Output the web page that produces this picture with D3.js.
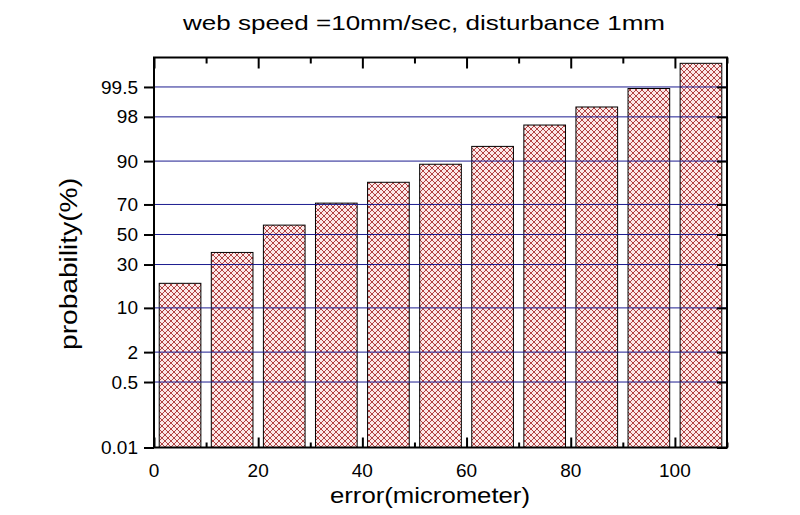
<!DOCTYPE html>
<html>
<head>
<meta charset="utf-8">
<script src="https://cdn.jsdelivr.net/npm/d3@7"></script>
<style>
  html, body { margin: 0; padding: 0; background: #ffffff; }
  svg { display: block; }
  text { font-family: "Liberation Sans", Arial, sans-serif; fill: #000; }
</style>
</head>
<body>
<div id="chart"></div>
<script>
// ---- data ----
const errorCenters = [5, 15, 25, 35, 45, 55, 65, 75, 85, 95, 105];
const probabilities = [19.7, 37.7, 56.5, 70.8, 81.9, 89.0, 93.8, 97.2, 98.7, 99.46, 99.86];
const yTickValues = [0.01, 0.5, 2, 10, 30, 50, 70, 90, 98, 99.5];
const yTickLabels = ["0.01", "0.5", "2", "10", "30", "50", "70", "90", "98", "99.5"];
const xMajorTicks = [0, 20, 40, 60, 80, 100];
const xMinorTicks = [10, 30, 50, 70, 90, 110];
const barWidthUnits = 8;
const titleText = "web speed =10mm/sec, disturbance 1mm";
const xLabelText = "error(micrometer)";
const yLabelText = "probability(%)";

// inverse normal CDF (Acklam)
function probit(p) {
  const a = [-3.969683028665376e+01, 2.209460984245205e+02, -2.759285104469687e+02, 1.383577518672690e+02, -3.066479806614716e+01, 2.506628277459239e+00];
  const b = [-5.447609879822406e+01, 1.615858368580409e+02, -1.556989798598866e+02, 6.680131188771972e+01, -1.328068155288572e+01];
  const c = [-7.784894002430293e-03, -3.223964580411365e-01, -2.400758277161838e+00, -2.549732539343734e+00, 4.374664141464968e+00, 2.938163982698783e+00];
  const d = [7.784695709041462e-03, 3.224671290700398e-01, 2.445134137142996e+00, 3.754408661907416e+00];
  const pl = 0.02425, ph = 1 - pl;
  let q, r;
  if (p < pl) {
    q = Math.sqrt(-2 * Math.log(p));
    return (((((c[0]*q+c[1])*q+c[2])*q+c[3])*q+c[4])*q+c[5]) / ((((d[0]*q+d[1])*q+d[2])*q+d[3])*q+1);
  } else if (p <= ph) {
    q = p - 0.5; r = q * q;
    return (((((a[0]*r+a[1])*r+a[2])*r+a[3])*r+a[4])*r+a[5])*q / (((((b[0]*r+b[1])*r+b[2])*r+b[3])*r+b[4])*r+1);
  } else {
    q = Math.sqrt(-2 * Math.log(1 - p));
    return -(((((c[0]*q+c[1])*q+c[2])*q+c[3])*q+c[4])*q+c[5]) / ((((d[0]*q+d[1])*q+d[2])*q+d[3])*q+1);
  }
}

(function () {
const W = 800, H = 515;
const pL = 154, pR = 727, pT = 57.5, pB = 447.5;

const svg = d3.select("#chart").append("svg").attr("width", W).attr("height", H);

const x = d3.scaleLinear().domain([0, 110]).range([pL, pR]);
const yz = d3.scaleLinear().domain([probit(0.0001), probit(0.999)]).range([pB, pT]);
const y = p => yz(probit(p / 100));

// pattern
const defs = svg.append("defs");
const pat = defs.append("pattern").attr("id", "hatch").attr("patternUnits", "userSpaceOnUse")
  .attr("width", 6).attr("height", 6);
pat.append("rect").attr("width", 6).attr("height", 6).attr("fill", "#fce8e8");
pat.append("path").attr("d", "M-1,-1L7,7M7,-1L-1,7").attr("stroke", "#a83030").attr("stroke-width", 0.9).attr("fill", "none");

// bars
svg.append("g").selectAll("rect").data(errorCenters).join("rect")
  .attr("x", d => x(d - barWidthUnits / 2))
  .attr("width", d => x(d + barWidthUnits / 2) - x(d - barWidthUnits / 2))
  .attr("y", (d, i) => y(probabilities[i]))
  .attr("height", (d, i) => pB - y(probabilities[i]))
  .attr("fill", "url(#hatch)")
  .attr("stroke", "#000").attr("stroke-width", 1);

// gridlines
svg.append("g").selectAll("line").data(yTickValues.slice(1)).join("line")
  .attr("x1", pL).attr("x2", pR)
  .attr("y1", d => y(d)).attr("y2", d => y(d))
  .attr("stroke", "#1c1c90").attr("stroke-width", 1);

// left axis (outward ticks with labels)
const leftAxis = d3.axisLeft(yz)
  .tickValues(yTickValues.map(p => probit(p / 100)))
  .tickFormat((d, i) => yTickLabels[i])
  .tickSize(10).tickPadding(6);
const gL = svg.append("g").attr("transform", `translate(${pL},0)`).call(leftAxis);
gL.select(".domain").remove();
gL.selectAll("line").attr("stroke-width", 2);
gL.selectAll("text").attr("font-size", 19).attr("font-family", "Liberation Sans, Arial, sans-serif");

// right axis (inward ticks, no labels)
const rightAxis = d3.axisLeft(yz)
  .tickValues(yTickValues.map(p => probit(p / 100)))
  .tickFormat("").tickSize(10);
const gR = svg.append("g").attr("transform", `translate(${pR},0)`).call(rightAxis);
gR.select(".domain").remove();
gR.selectAll("line").attr("stroke-width", 2);

// bottom axis (inward ticks)
const bottomAxis = d3.axisTop(x).tickValues(xMajorTicks).tickFormat("").tickSize(10);
const gB = svg.append("g").attr("transform", `translate(0,${pB})`).call(bottomAxis);
gB.select(".domain").remove();
gB.selectAll("line").attr("stroke-width", 2);
const bottomMinor = d3.axisTop(x).tickValues(xMinorTicks).tickFormat("").tickSize(5);
const gBm = svg.append("g").attr("transform", `translate(0,${pB})`).call(bottomMinor);
gBm.select(".domain").remove();
gBm.selectAll("line").attr("stroke-width", 2);
// bottom labels
svg.append("g").selectAll("text").data(xMajorTicks).join("text")
  .attr("x", d => x(d)).attr("y", 477)
  .attr("text-anchor", "middle").attr("font-size", 19)
  .text(d => d);

// top axis (inward ticks)
const topAxis = d3.axisBottom(x).tickValues(xMajorTicks).tickFormat("").tickSize(11);
const gT = svg.append("g").attr("transform", `translate(0,${pT})`).call(topAxis);
gT.select(".domain").remove();
gT.selectAll("line").attr("stroke-width", 2);
const topMinor = d3.axisBottom(x).tickValues(xMinorTicks).tickFormat("").tickSize(6);
const gTm = svg.append("g").attr("transform", `translate(0,${pT})`).call(topMinor);
gTm.select(".domain").remove();
gTm.selectAll("line").attr("stroke-width", 2);

// frame
svg.append("rect").attr("x", pL).attr("y", pT)
  .attr("width", pR - pL).attr("height", pB - pT)
  .attr("fill", "none").attr("stroke", "#000").attr("stroke-width", 2);

// title and labels
svg.append("text").attr("x", 424).attr("y", 30).attr("text-anchor", "middle")
  .attr("font-size", 21).attr("textLength", 482).attr("lengthAdjust", "spacingAndGlyphs")
  .text(titleText);
svg.append("text").attr("x", 430).attr("y", 503).attr("text-anchor", "middle")
  .attr("font-size", 22).attr("textLength", 200).attr("lengthAdjust", "spacingAndGlyphs")
  .text(xLabelText);
svg.append("text").attr("transform", "translate(77,264) rotate(-90)").attr("text-anchor", "middle")
  .attr("font-size", 23).attr("textLength", 172).attr("lengthAdjust", "spacingAndGlyphs")
  .text(yLabelText);
})();
</script>
</body>
</html>
